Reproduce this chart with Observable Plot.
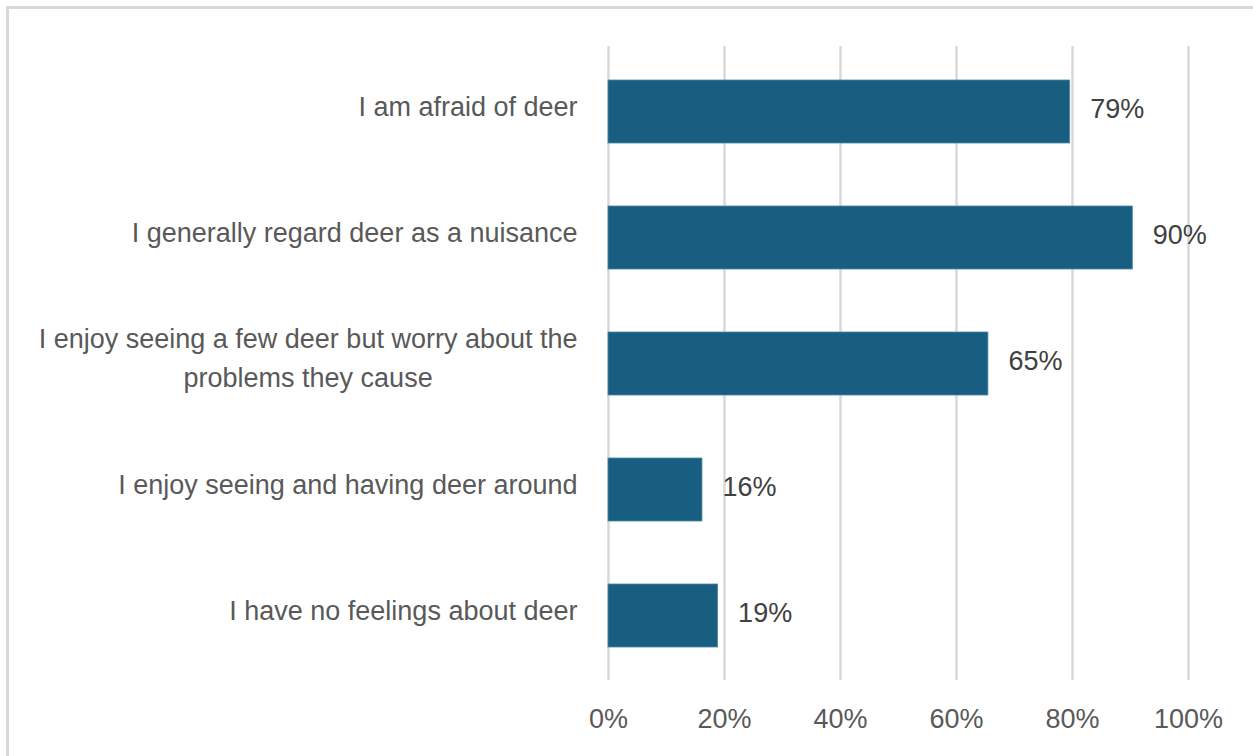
<!DOCTYPE html>
<html>
<head>
<meta charset="utf-8">
<script src="https://cdn.jsdelivr.net/npm/d3@7"></script>
<script src="https://cdn.jsdelivr.net/npm/@observablehq/plot@0.6"></script>
<style>
  html, body { margin: 0; padding: 0; background: #fff; overflow: hidden; }
  #wrap { position: relative; width: 1253px; height: 756px; }
  #frame { position: absolute; left: 6px; top: 6px; width: 1260px; height: 780px;
           border-left: 3px solid #d9d9d9; border-top: 3px solid #d9d9d9; pointer-events: none; }
  #chart { position: absolute; left: 0; top: 0; }
</style>
</head>
<body>
<div id="wrap"><div id="chart"></div><div id="frame"></div></div>
<script>
const categories = [
  "I am afraid of deer",
  "I generally regard deer as a nuisance",
  "I enjoy seeing a few deer but worry about the\nproblems they cause",
  "I enjoy seeing and having deer around",
  "I have no feelings about deer"
];
const values = [79.6, 90.4, 65.5, 16.2, 18.9];
const valueLabels = ["79%", "90%", "65%", "16%", "19%"];
const xTicks = [0, 20, 40, 60, 80, 100];

const data = categories.map((c, i) => ({category: c, value: values[i], label: valueLabels[i]}));

const chart = Plot.plot({
  width: 1253,
  height: 756,
  marginLeft: 608,
  marginRight: 65,
  marginTop: 46,
  marginBottom: 76,
  style: {fontFamily: "'Liberation Sans', Arial, sans-serif", fontSize: "27px", background: "white", overflow: "visible"},
  x: {domain: [0, 100]},
  y: {domain: categories, paddingInner: 0.5, paddingOuter: 0.25},
  marks: [
    Plot.gridX(xTicks, {stroke: "#d9d9d9", strokeWidth: 2.5, strokeOpacity: 1}),
    Plot.barX(data, {x: "value", y: "category", fill: "#175e81", stroke: "#4f88a6", strokeWidth: 0.8}),
    Plot.text(data, {x: "value", y: "category", text: "label", textAnchor: "start", dx: 20, dy: -3, fill: "#404040", fontSize: 27}),
    Plot.axisX({ticks: xTicks, tickSize: 0, tickPadding: 28, tickFormat: d => d + "%", fill: "#595959", fontSize: 27, label: null}),
    Plot.axisY({tickSize: 0, tickPadding: 31, dy: -9, fill: "#595959", fontSize: 27, lineHeight: 1.45, label: null})
  ]
});
document.getElementById("chart").appendChild(chart);

// center multi-line category labels (lines centered, right edge aligned)
chart.querySelectorAll("text").forEach(t => {
  const spans = t.querySelectorAll("tspan");
  if (spans.length > 1) {
    let w = 0;
    spans.forEach(s => { w = Math.max(w, s.getComputedTextLength()); });
    t.setAttribute("text-anchor", "middle");
    spans.forEach(s => {
      const x0 = +(s.getAttribute("x") || 0);
      s.setAttribute("x", x0 - w / 2);
    });
  }
});
</script>
</body>
</html>
